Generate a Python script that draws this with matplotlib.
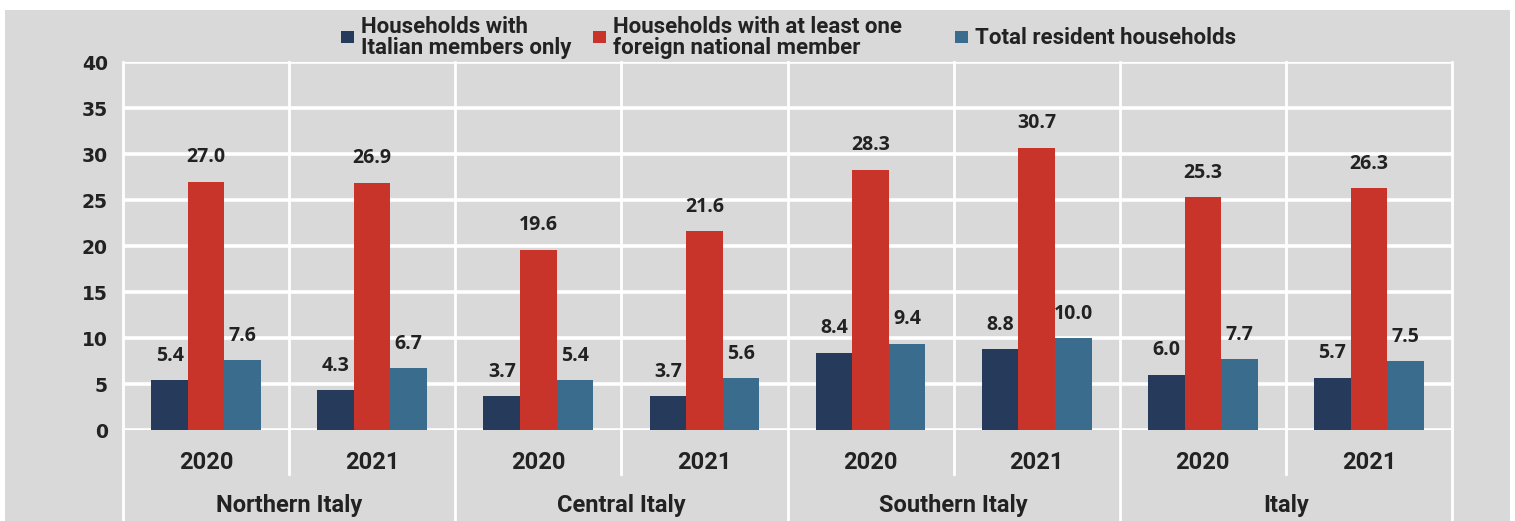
# households in absolute poverty, by area and citizenship
import matplotlib.pyplot as plt
from matplotlib.patches import Rectangle
import numpy as np

regions = ['Northern Italy', 'Central Italy', 'Southern Italy', 'Italy']
years = ['2020', '2021']
series_names = ['Households with\nItalian members only',
                'Households with at least one\nforeign national member',
                'Total resident households']
italian_only = [5.4, 4.3, 3.7, 3.7, 8.4, 8.8, 6.0, 5.7]
foreign = [27.0, 26.9, 19.6, 21.6, 28.3, 30.7, 25.3, 26.3]
total = [7.6, 6.7, 5.4, 5.6, 9.4, 10.0, 7.7, 7.5]

colors = ['#263b5b', '#c8342a', '#3a6c8d']
bg = '#d9d9d9'
txt = '#222222'
num_font = 'Open Sans'
cat_font = 'Roboto'

W, H = 1515, 521
fig = plt.figure(figsize=(W / 100, H / 100), dpi=100)
fig.patch.set_facecolor('white')
# gray panel behind everything
fig.add_artist(Rectangle((5 / W, 0), 1505 / W, 511 / H, transform=fig.transFigure,
                         facecolor=bg, edgecolor='none', zorder=-10))

ax = fig.add_axes([123 / W, 91 / H, 1329 / W, 368 / H])
ax.patch.set_alpha(0)

n = len(italian_only)
x = np.arange(n)
w = 0.22
for k, vals in enumerate([italian_only, foreign, total]):
    pos = x + (k - 1) * w
    ax.bar(pos, vals, width=w, color=colors[k], zorder=3)
    for px, v in zip(pos, vals):
        ax.annotate(f'{v:.1f}', (px, v), xytext=(0, 14), textcoords='offset points',
                    ha='center', va='baseline', fontsize=14, fontweight='bold',
                    family=num_font, color=txt, zorder=4)

ax.set_xlim(-0.5, n - 0.5)
ax.set_ylim(0, 40)
ax.set_yticks(range(0, 41, 5))
ax.set_xticks([])
ax.tick_params(axis='y', length=0, pad=11)
for t in ax.get_yticklabels():
    t.set_fontsize(13.5)
    t.set_fontweight('bold')
    t.set_family('DejaVu Sans')
    t.set_color(txt)
for s in ax.spines.values():
    s.set_visible(False)

# white grid
for yv in range(0, 41, 5):
    ax.axhline(yv, color='white', lw=2.6, zorder=1)
trans = ax.get_xaxis_transform()
for i in range(n + 1):
    xb = i - 0.5
    low = -0.25 if i % 2 == 0 else -0.12
    ax.plot([xb, xb], [1, low], transform=trans, color='white', lw=2,
            clip_on=False, zorder=1)

# year and region labels
for i in range(n):
    ax.text(i, -0.087, years[i % 2], transform=trans, ha='center', va='center',
            fontsize=17, fontweight='bold', family=cat_font, color=txt)
for j, r in enumerate(regions):
    ax.text(2 * j + 0.5, -0.204, r, transform=trans, ha='center', va='center',
            fontsize=17, fontweight='bold', family=cat_font, color=txt)

# legend drawn by hand
leg_x = [341, 593, 955]
for k, name in enumerate(series_names):
    fig.add_artist(Rectangle((leg_x[k] / W, (H - 43) / H), 13 / W, 12 / H,
                             transform=fig.transFigure, facecolor=colors[k],
                             edgecolor='none'))
    fig.text((leg_x[k] + 20) / W, (H - 37.5) / H, name, ha='left', va='center',
             fontsize=16, fontweight='bold', family=cat_font, color=txt,
             linespacing=0.92)

fig.savefig('out.png', dpi=100, facecolor=fig.get_facecolor())
